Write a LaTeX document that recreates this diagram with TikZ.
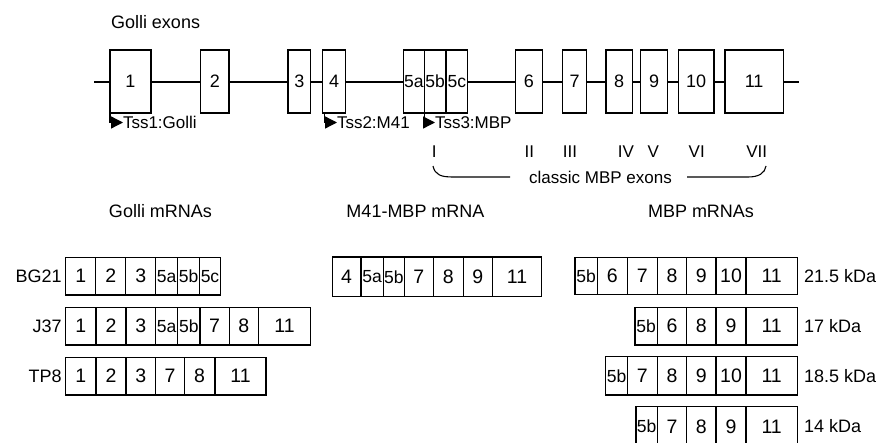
\documentclass[tikz,border=0pt]{standalone}
\usepackage{fontspec}
\setmainfont{Liberation Sans}
\usetikzlibrary{arrows.meta}
\newcommand\smlab[1]{{\fontsize{17.5}{17.5}\selectfont #1}}
\newcommand\gexon[4]{\node[cell, minimum width={(#3-#2)*1pt}, minimum height=63pt] (#1) at ({(#2+#3)/2},81.5) {#4};}
\newcommand\mrow[5]{%
  \foreach \xe/\lab [count=\i, remember=\xe as \xs (initially #4)] in {#5} {%
    \pgfmathsetmacro\mycw{\xe-\xs}%
    \pgfmathsetmacro\mycx{(\xe+\xs)/2}%
    \node[cell, rcell, minimum width=\mycw pt, minimum height={(#3-#2)*1pt}] (#1-\i) at (\mycx,{(#2+#3)/2}) {\lab};
  }%
}
\begin{document}
\begin{tikzpicture}[x=1pt,y=-1pt,
  every node/.style={font=\fontsize{18}{18}\selectfont, inner sep=0pt, outer sep=0pt},
  cell/.style={draw, line width=1.3pt, fill=white},
  rcell/.style={font=\fontsize{19.5}{19.5}\selectfont},
  small/.style={font=\fontsize{17}{17}\selectfont},
  ln/.style={line width=1.3pt},
  tss/.style={line width=1.3pt, -{Triangle[length=12pt,width=12pt]}},
]
\clip (0,0) rectangle (882,442);
\fill[white] (0,0) rectangle (882,442);

% title
\node[anchor=west] (title) at (111,22) {Golli exons};

% gene line
\coordinate (lstart) at (94,82);
\coordinate (lend) at (799,82);
\draw[ln] (lstart) -- (lend);

% exons
\gexon{e1}{110}{151}{1}
\gexon{e2}{200.7}{229}{2}
\gexon{e3}{288}{310.7}{3}
\gexon{e4}{322.7}{345.7}{4}
\gexon{e5a}{403.3}{424.3}{\smlab{5a}}
\gexon{e5b}{424.3}{446}{\smlab{5b}}
\gexon{e5c}{446}{467.7}{\smlab{5c}}
\gexon{e6}{515.3}{542.3}{6}
\gexon{e7}{562.3}{586.7}{7}
\gexon{e8}{606}{632.3}{8}
\gexon{e9}{640.7}{667.3}{9}
\gexon{e10}{678.3}{714}{10}
\gexon{e11}{725}{783.3}{11}

% transcription start sites
\node[small, anchor=west] (tss1) at (123,122.5) {Tss1:Golli};
\node[small, anchor=west] (tss2) at (337,122.5) {Tss2:M41};
\node[small, anchor=west] (tss3) at (435,122.5) {Tss3:MBP};
\draw[tss] (e1.south west) |- (tss1.west);
\draw[tss] ([xshift=1.5pt]e4.south west) |- (tss2.west);
\draw[tss] (e5a.south east) |- (tss3.west);

% classic MBP exon numerals
\node[small] (r1) at (434.3,152) {I};
\node[small] (r2) at (529.3,152) {II};
\node[small] (r3) at (570,152) {III};
\node[small] (r4) at (626,152) {IV};
\node[small] (r5) at (653.3,152) {V};
\node[small] (r6) at (696.7,152) {VI};
\node[small] (r7) at (756.7,152) {VII};

% brace
\node[small] (classic) at (600.5,177) {classic MBP exons};
\coordinate (bl0) at (433,166);
\coordinate (bl1) at (510,177);
\coordinate (br0) at (687,177);
\coordinate (br1) at (766,166);
\draw[line width=1.1pt] (bl0) .. controls (435,175) and (441,177) .. (453,177) -- (bl1);
\draw[line width=1.1pt] (br0) -- (748,177) .. controls (759,177) and (765,173) .. (br1);

% headings
\node (hgolli) at (160.5,211) {Golli mRNAs};
\node (hm41) at (415.5,211) {M41-MBP mRNA};
\node (hmbp) at (701,211) {MBP mRNAs};

% Golli mRNAs
\node[anchor=east] (lbg) at (61.7,276.5) {BG21};
\node[anchor=east] (lj) at (61.7,326.5) {J37};
\node[anchor=east] (ltp) at (61.7,376.5) {TP8};
\mrow{bg}{257.3}{295}{65.7}{95.7/1,125.7/2,155.7/3,177.7/\smlab{5a},199.3/\smlab{5b},220.7/\smlab{5c}}
\mrow{j}{307.3}{345}{65.7}{96/1,126/2,155.7/3,177.7/\smlab{5a},200/\smlab{5b},229.3/7,258.3/8,310.7/11}
\mrow{tp}{357.3}{395}{65.7}{96/1,126/2,155.7/3,184.3/7,215/8,266/11}

% M41-MBP mRNA
\mrow{m}{257}{296.5}{332.3}{361/4,383.3/\smlab{5a},404.3/\smlab{5b},433.3/7,463.3/8,492.3/9,541.7/11}

% MBP mRNAs
\mrow{a}{257.3}{294.5}{575}{597.3/\smlab{5b},627.3/6,657.3/7,686.7/8,716/9,746/10,797.3/11}
\mrow{b}{307.3}{345}{635}{657.3/\smlab{5b},686.7/6,716/8,746/9,797.3/11}
\mrow{c}{356.7}{395}{605.7}{627.3/\smlab{5b},657.3/7,686.7/8,716/9,746/10,797.3/11}
\mrow{d}{406.7}{446}{636}{657.3/\smlab{5b},686.7/7,716/8,746/9,797.3/11}
\node[anchor=west] (ka) at (804,276) {21.5 kDa};
\node[anchor=west] (kb) at (804,326) {17 kDa};
\node[anchor=west] (kc) at (804,376) {18.5 kDa};
\node[anchor=west] (kd) at (804,426.5) {14 kDa};
\end{tikzpicture}
\end{document}
